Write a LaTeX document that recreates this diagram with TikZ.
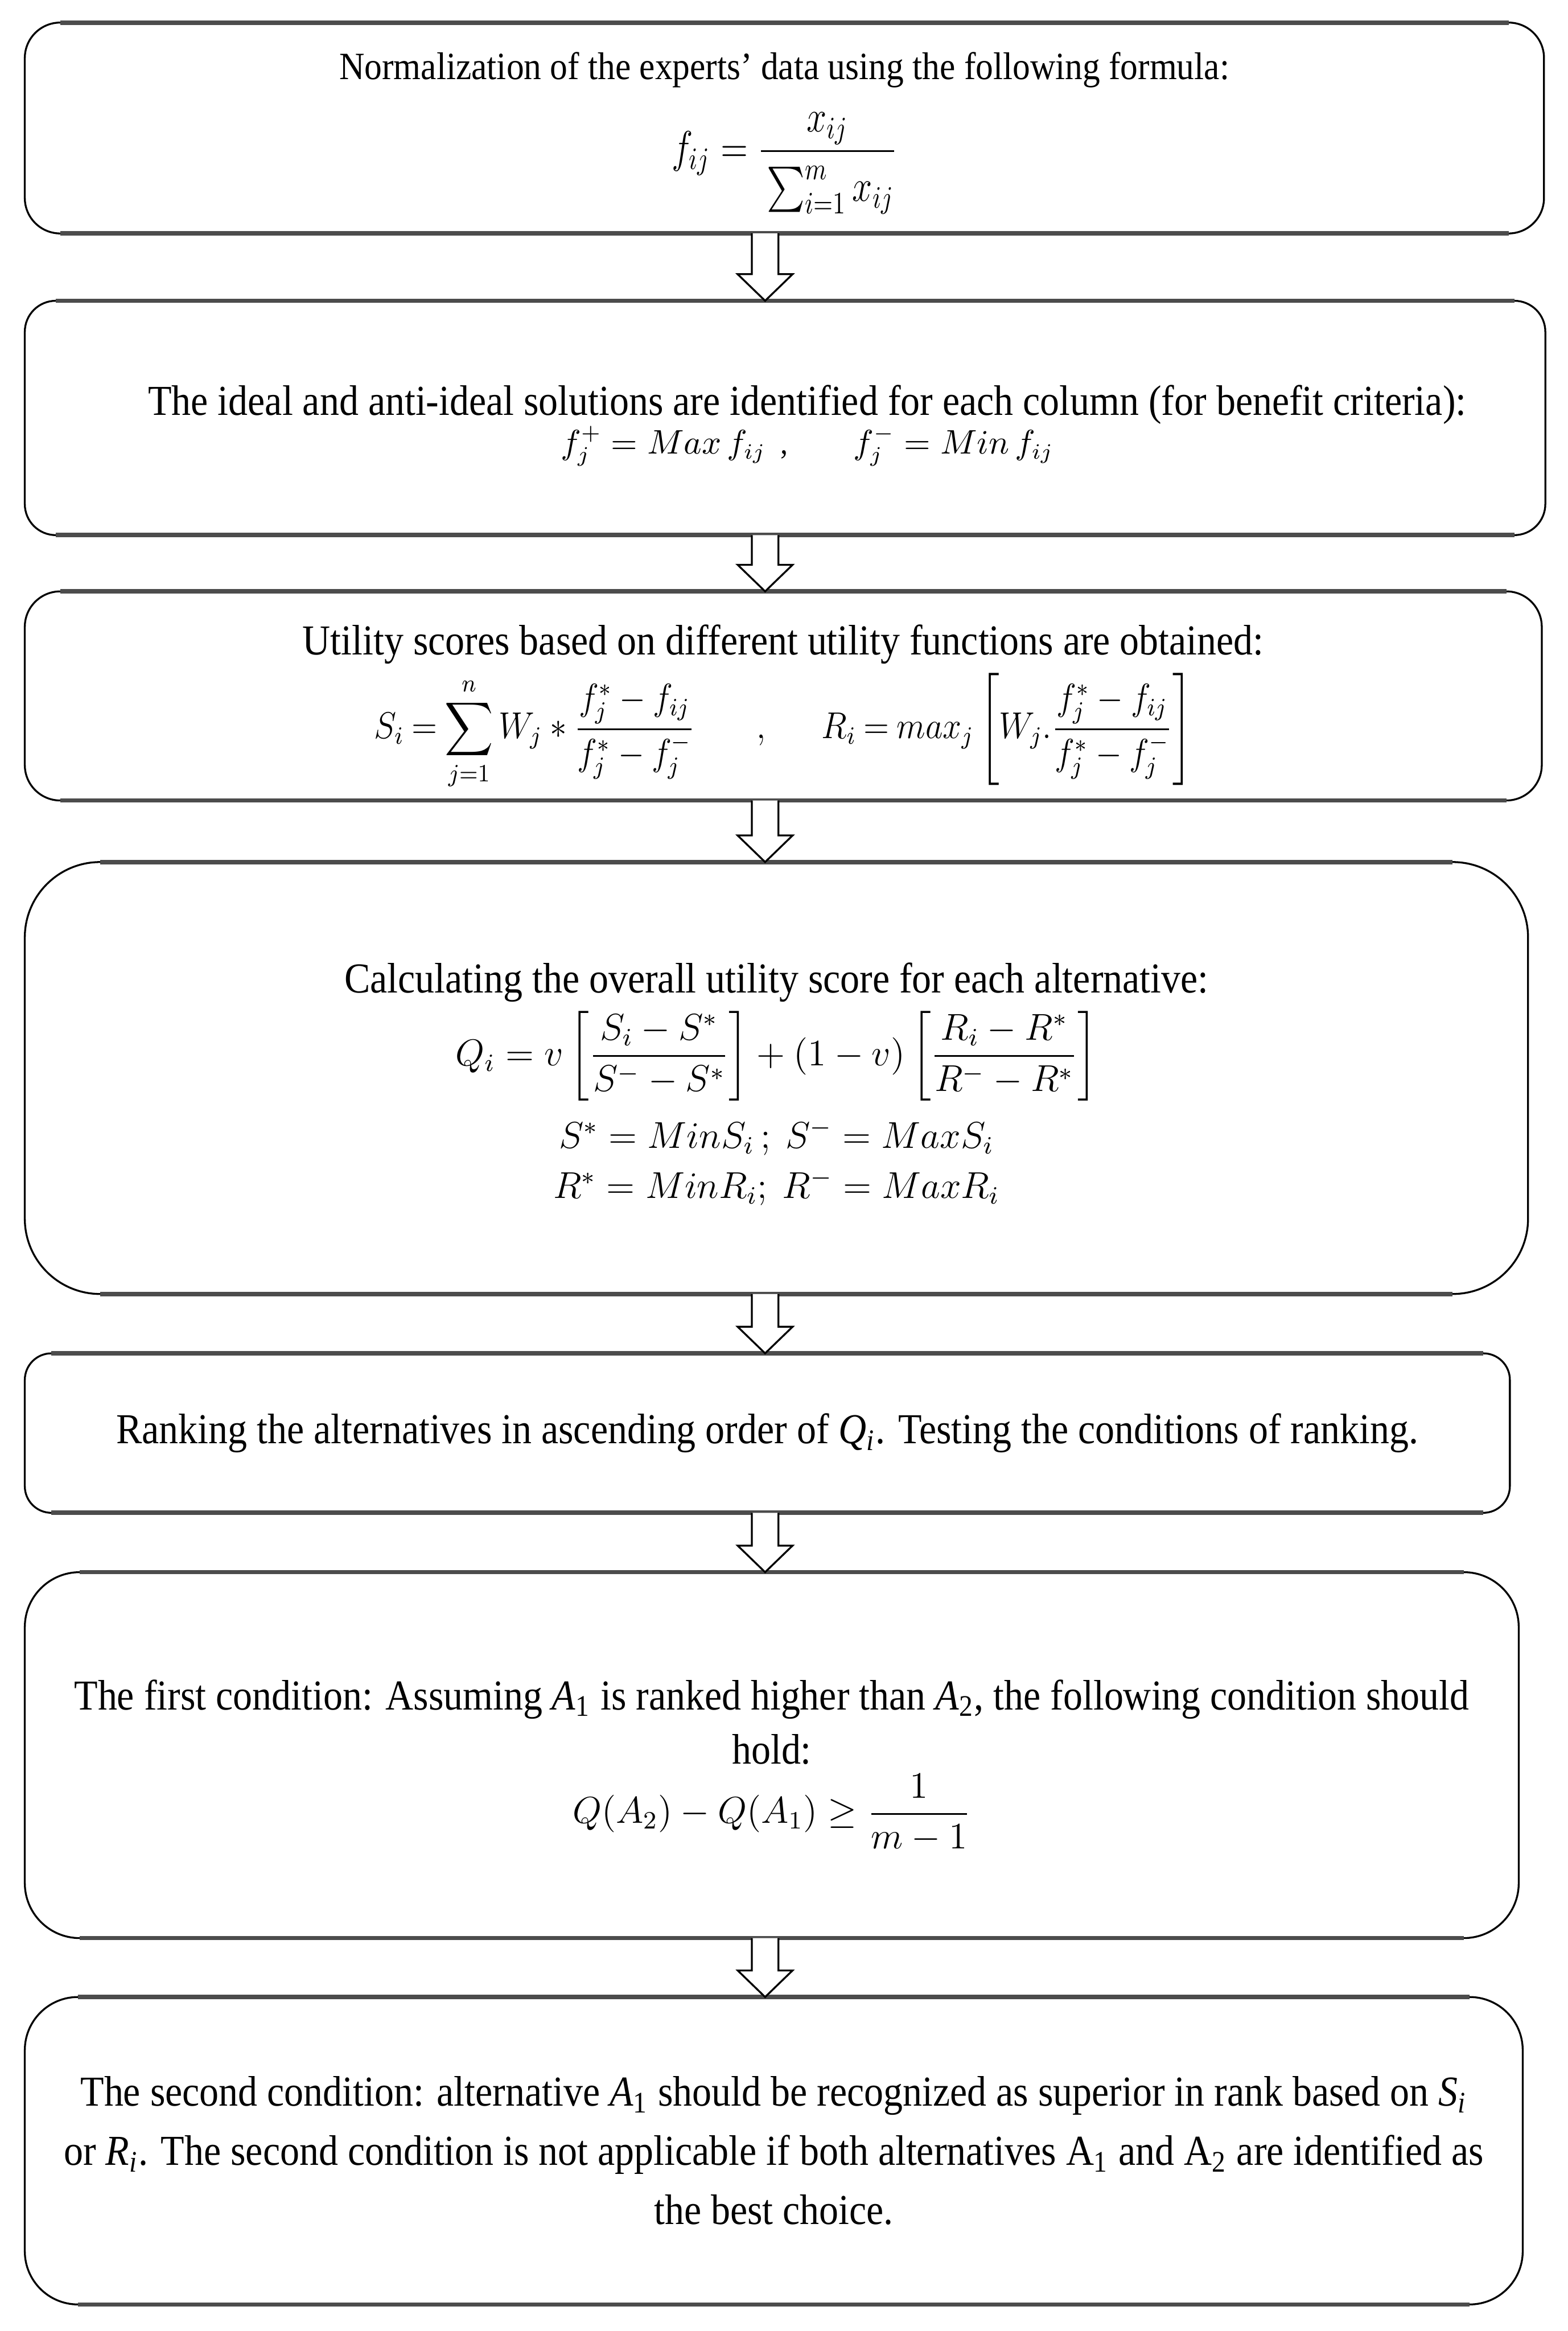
\documentclass[tikz,border=0pt]{standalone}
\usepackage{amsmath, amssymb}
\usepackage{fontspec}
\setmainfont{Liberation Serif}[FakeStretch=0.906]
\usepackage{tikz}
\usetikzlibrary{positioning, calc}
\newcommand{\flowarrow}[2]{%
  \draw[flow] ($(#1.south -| ax)+(-0.15,0)$) -- ($(#2.north -| ax)+(-0.15,0.30)$)
    -- ++(-0.16,0) -- (#2.north -| ax) -- ($(#2.north -| ax)+(0.31,0.30)$)
    -- ++(-0.16,0) -- ($(#1.south -| ax)+(0.15,0)$);}

\begin{document}
\begin{tikzpicture}[
                node distance=0.67cm,
                box/.style={draw, rounded corners=0.4cm, align=center, inner sep=0pt, outer sep=0pt, line width=0.6pt, font=\fontsize{13.7}{19}\selectfont},
                edge/.style={line width=1.4pt, black!70},
                flow/.style={draw, fill=white, line width=0.6pt, line join=miter}
            ]
            \useasboundingbox (0,0) rectangle (17.695,-26.31);
            \coordinate (ax) at (8.635,0);
            \node[box, anchor=north west, minimum width=17.145cm, minimum height=2.38cm, font=\fontsize{12.4}{18}\selectfont] (norm) at (0.28,-0.255)
                {\rule{0pt}{12pt}Normalization of the experts' data using the following formula:\\[7pt]
                 {\fontsize{14.5}{16}\selectfont\scalebox{0.8}[1]{$\displaystyle f_{ij} = \frac{x_{ij}}{\rule{0pt}{14pt}\sum_{i=1}^{m} x_{ij}}$}}};
            \node[box, below=0.76cm of norm.south west, anchor=north west, minimum width=17.16cm, minimum height=2.645cm, rounded corners=0.35cm] (ideal)
                {\hspace*{0.5cm}\rule{0pt}{14.5pt}The ideal and anti-ideal solutions are identified for each column (for benefit criteria):\\[-6.5pt]
                 \hspace*{0.5cm}{\fontsize{10.5}{12}\selectfont $f_j^{+} = Max\, f_{ij}$\ \ ,\qquad $f_j^{-} = Min\, f_{ij}$}};
            \node[box, below=0.635cm of ideal.south west, anchor=north west, minimum width=17.12cm, minimum height=2.36cm, rounded corners=0.4cm] (util)
                {\rule{0pt}{17pt}Utility scores based on different utility functions are obtained:\\[2pt]
                 {\fontsize{12}{14}\selectfont\thickmuskip=4mu\scalebox{0.9}[1]{$\displaystyle S_i = \sum_{j=1}^{n} W_j * \frac{f_j^{*} - f_{ij}}{f_j^{*} - f_j^{-}}\hspace{22pt},\hspace{18pt}R_i = max_j \left[W_j . \frac{f_j^{*} - f_{ij}}{f_j^{*} - f_j^{-}}\right]$}}};
            \node[box, below=0.695cm of util.south west, anchor=north west, minimum width=16.965cm, minimum height=4.875cm, rounded corners=0.85cm] (score)
                {\rule{0pt}{13.5pt}Calculating the overall utility score for each alternative:\\[2pt]
                 {\fontsize{12}{14}\selectfont $\displaystyle Q_i = v\left[\frac{S_i - S^{*}}{S^{-} - S^{*}}\right] + (1-v)\left[\frac{R_i - R^{*}}{R^{-} - R^{*}}\right]$}\\[5pt]
                 {\fontsize{12}{14}\selectfont $S^{*} = MinS_i\,;\ S^{-} = MaxS_i$}\\[-3pt]
                 {\fontsize{12}{14}\selectfont $R^{*} = MinR_i;\ R^{-} = MaxR_i$}};
            \node[box, below=of score.south west, anchor=north west, minimum width=16.76cm, minimum height=1.8cm, rounded corners=0.3cm] (rank)
                {Ranking the alternatives in ascending order of \textit{Q}\textsubscript{\textit{i}}. Testing the conditions of ranking.};
            \node[box, below=of rank.south west, anchor=north west, minimum width=16.86cm, minimum height=4.13cm, rounded corners=0.62cm] (cond1)
                {\rule{0pt}{16.5pt}The first condition: Assuming \textit{A}\textsubscript{1} is ranked higher than \textit{A}\textsubscript{2}, the following condition should\\[-1.5pt]
                 hold:\\
                 {\fontsize{11.5}{14}\selectfont $\displaystyle Q(A_2) - Q(A_1) \geq \frac{1}{m-1}$}};
            \node[box, below=0.665cm of cond1.south west, anchor=north west, minimum width=16.905cm, minimum height=3.47cm, rounded corners=0.6cm] (cond2)
                {The second condition: alternative \textit{A}\textsubscript{1} should be recognized as superior in rank based on \textit{S}\textsubscript{\textit{i}}\\
                 or \textit{R}\textsubscript{\textit{i}}. The second condition is not applicable if both alternatives A\textsubscript{1} and A\textsubscript{2} are identified as\\
                 the best choice.};
            % heavier top and bottom edges
            \foreach \n/\r in {norm/0.4, ideal/0.35, util/0.4, score/0.85, rank/0.3, cond1/0.62, cond2/0.6}{
                \draw[edge] ($(\n.north west)+(\r,0)$) -- ($(\n.north east)+(-\r,0)$);
                \draw[edge] ($(\n.south west)+(\r,0)$) -- ($(\n.south east)+(-\r,0)$);
            }
            \flowarrow{norm}{ideal}
            \flowarrow{ideal}{util}
            \flowarrow{util}{score}
            \flowarrow{score}{rank}
            \flowarrow{rank}{cond1}
            \flowarrow{cond1}{cond2}
        \end{tikzpicture}
\end{document}
